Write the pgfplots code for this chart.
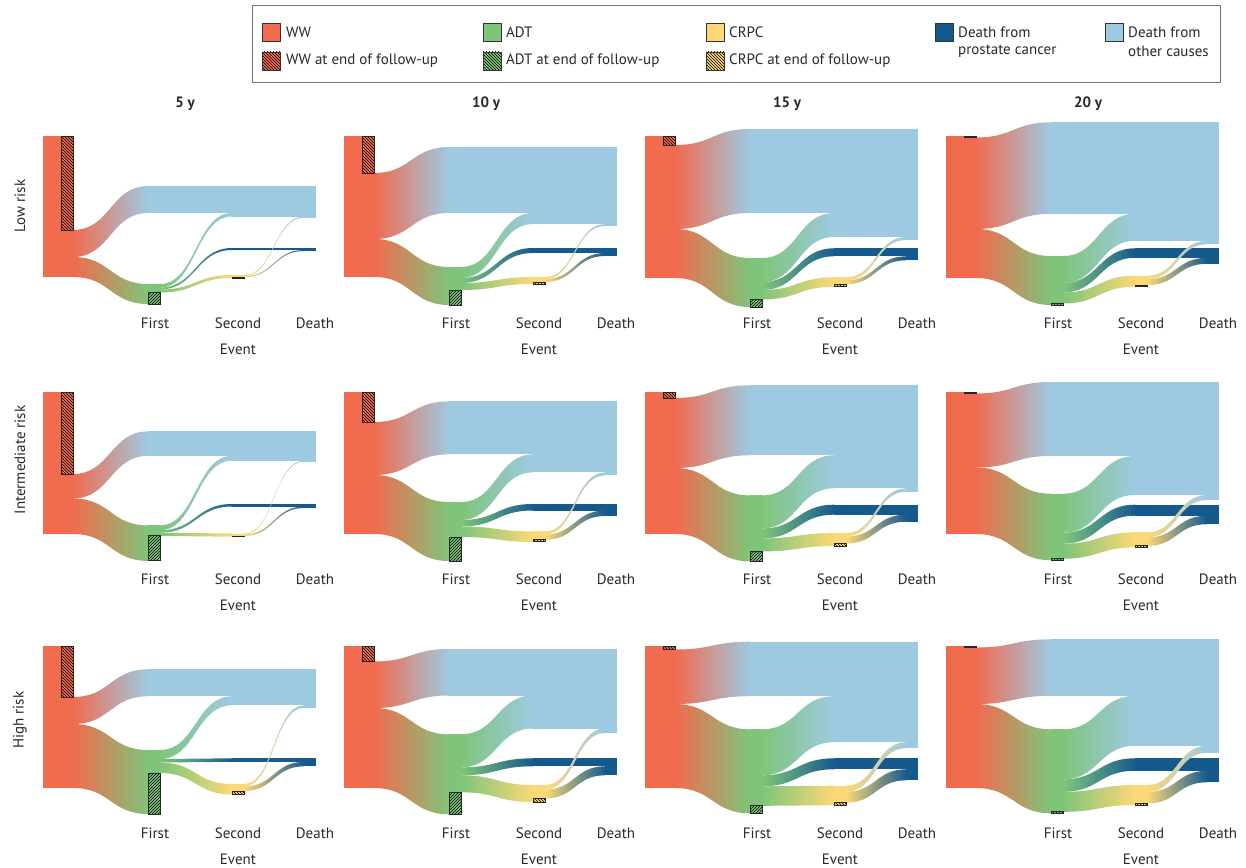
\documentclass[border=0pt]{standalone}
\usepackage{pgfplots}
\pgfplotsset{compat=1.18}
\usepackage{pgfplotstable}
\usepackage{fontspec}
\setmainfont{PT Sans}
\usetikzlibrary{patterns}

\definecolor{wwc}{RGB}{241,107,79}
\definecolor{adtc}{RGB}{126,197,122}
\definecolor{crc}{RGB}{252,216,118}
\definecolor{pcc}{RGB}{22,90,141}
\definecolor{oc}{RGB}{158,202,225}
\definecolor{txt}{RGB}{40,40,40}

% one row per panel (low 5,10,15,20 y; intermediate ...; high ...)
% a: WW at end, b: WW->other death, c: WW->ADT, do: top of other-death band,
% adt: top of ADT node, d: ADT at end, e: ADT->other, f: ADT->PC death, g: ADT->CRPC,
% pc: top of PC-death band, cr: top of CRPC node, h: CRPC at end, i: CRPC->other, j: CRPC->PC
\pgfplotstableread{
a b c do adt d e f g pc cr h i j
94 27 20 50 148 11.5 3.5 2 3 112 139 0.8 1.2 1.0
37 66 38 11 131 15 11 5 7 112 141 2 2 3
9 84 49 -7 122 7.5 24 8 9.5 112.3 141.3 2.5 3 4
1.5 91.5 49 -13.7 120 1.5 27 9.5 11 112.3 139.7 1.5 3.5 6
82 24.5 35.5 39.4 133.4 25 4.8 2.5 3.2 112 141.5 0.7 1 1.5
30 53 59 9.4 110 24 18 6.5 10.5 112 139.4 2 3 5.5
6 70 66 -6.7 103.4 10 33 10 13 112.7 141 2.5 3.5 7
1.5 74 66.5 -10 101.7 1.5 39 11 15 112.7 140.4 1.5 5 8.5
51 27 64 23.3 104 41 9 3.5 10.5 112.3 138 3.5 2.5 4.5
15.5 46.5 80 3 88.3 22 33 8 17 112.3 139 3.5 4.5 9
3.5 54.5 84 -4.3 83.3 7.5 46 11 19.5 112.3 139.7 2.5 6 11
1.5 56.5 84 -6.7 83.3 1.5 50 12.5 20 112.3 139 1.5 7 11.5
}\paneldata

\newcommand\fs{\fontsize{15}{18}\selectfont}

\pgfplotsset{panel/.style={anchor=origin, x=1pt, y=1pt,
  xmin=0, xmax=285, ymin=-178, ymax=16, clip=false,
  axis line style={draw=none}, major tick length=0pt, ytick=\empty,
  xtick={112,195,272}, xticklabels={First,Second,Death},
  xlabel={Event}, xlabel style={at={(ticklabel cs:0.684)}, anchor=near ticklabel, yshift=-9pt, font=\fs, text=txt},
  tick label style={font=\fs, text=txt}}}

% curved band: x1, ytop1, ybot1, x2, ytop2, ybot2, xmid, colour from, colour to
\newcommand\curveband[9]{%
 \addplot[draw=none, left color=#8, right color=#9] coordinates {(#1,#2)}
  .. controls (axis cs:#7,#2) and (axis cs:#7,#5) .. (axis cs:#4,#5)
  -- (axis cs:#4,#6)
  .. controls (axis cs:#7,#6) and (axis cs:#7,#3) .. (axis cs:#1,#3) -- cycle;}
% flat band: x1, x2, ytop, ybot, colour
\newcommand\flatband[5]{%
 \addplot[draw=none, fill=#5] coordinates {(#1,#3) (#2,#3) (#2,#4) (#1,#4)} -- cycle;}
% hatched box: x1, x2, ytop, ybot, colour, pattern
\newcommand\hatchbox[6]{%
 \addplot[draw=black!85, line width=0.9pt, preaction={fill=#5}, pattern=#6]
  coordinates {(#1,#3) (#2,#3) (#2,#4) (#1,#4)} -- cycle;}

\newcommand\getv[2]{\pgfplotstablegetelem{\prow}{#1}\of\paneldata\let#2\pgfplotsretval}

\newcommand\panel[3]{%
 \def\prow{#1}%
 \getv{a}\va \getv{b}\vb \getv{c}\vc \getv{do}\vdo \getv{adt}\vadt
 \getv{d}\vd \getv{e}\ve \getv{f}\vf \getv{g}\vg \getv{pc}\vpc
 \getv{cr}\vcr \getv{h}\vh \getv{i}\vi \getv{j}\vj
 \pgfmathsetmacro\yWa{-(\va)}%
 \pgfmathsetmacro\yWb{-(\va+\vb)}%
 \pgfmathsetmacro\yWc{-(\va+\vb+\vc)}%
 \pgfmathsetmacro\yDOa{-(\vdo)}%
 \pgfmathsetmacro\yDOb{-(\vdo+\vb)}%
 \pgfmathsetmacro\yDOc{-(\vdo+\vb+\ve)}%
 \pgfmathsetmacro\yDOd{-(\vdo+\vb+\ve+\vi)}%
 \pgfmathsetmacro\yAa{-(\vadt)}%
 \pgfmathsetmacro\yAb{-(\vadt+\ve)}%
 \pgfmathsetmacro\yAc{-(\vadt+\ve+\vf)}%
 \pgfmathsetmacro\yAd{-(\vadt+\ve+\vf+\vg)}%
 \pgfmathsetmacro\yAe{-(\vadt+\vc)}%
 \pgfmathsetmacro\yPa{-(\vpc)}%
 \pgfmathsetmacro\yPb{-(\vpc+\vf)}%
 \pgfmathsetmacro\yPc{-(\vpc+\vf+\vj)}%
 \pgfmathsetmacro\yCa{-(\vcr)}%
 \pgfmathsetmacro\yCb{-(\vcr+\vi)}%
 \pgfmathsetmacro\yCc{-(\vcr+\vi+\vj)}%
 \pgfmathsetmacro\yCd{-(\vcr+\vg)}%
 \begin{axis}[panel, at={(#2pt,#3pt)}]
  \curveband{30}{\yWa}{\yWb}{105}{\yDOa}{\yDOb}{67.5}{wwc}{oc}
  \flatband{104.5}{273}{\yDOa}{\yDOb}{oc}
  \curveband{30}{\yWb}{\yWc}{105}{\yAa}{\yAe}{67.5}{wwc}{adtc}
  \curveband{117}{\yAa}{\yAb}{189}{\yDOb}{\yDOc}{153}{adtc}{oc}
  \flatband{188.5}{273}{\yDOb}{\yDOc}{oc}
  \curveband{117}{\yAb}{\yAc}{189}{\yPa}{\yPb}{153}{adtc}{pcc}
  \flatband{188.5}{273}{\yPa}{\yPb}{pcc}
  \curveband{117}{\yAc}{\yAd}{189}{\yCa}{\yCd}{153}{adtc}{crc}
  \curveband{201}{\yCb}{\yCc}{261}{\yPb}{\yPc}{231}{crc}{pcc}
  \flatband{260.5}{273}{\yPb}{\yPc}{pcc}
  \curveband{201}{\yCa}{\yCb}{261}{\yDOc}{\yDOd}{231}{crc}{oc}
  \flatband{260.5}{273}{\yDOc}{\yDOd}{oc}
  \flatband{0}{30.5}{0}{\yWc}{wwc}
  \flatband{104.5}{117.5}{\yAa}{\yAe}{adtc}
  \flatband{188.5}{201.5}{\yCa}{\yCd}{crc}
  \hatchbox{18}{30}{0}{\yWa}{wwc}{north west lines}
  \hatchbox{105}{117}{\yAd}{\yAe}{adtc}{north east lines}
  \hatchbox{189}{201}{\yCc}{\yCd}{crc}{north west lines}
 \end{axis}}

\begin{document}
\begin{tikzpicture}[x=1pt, y=1pt, font=\fs, text=txt]
\useasboundingbox (0,0) rectangle (1246,-867);

% legend
\draw[black!55, line width=0.9pt] (252,-5) rectangle (1220,-82);
\filldraw[fill=wwc, draw=black!80, line width=0.6pt] (262,-23) rectangle (280,-41);
\node[anchor=west, inner sep=0] at (286,-32) {WW};
\filldraw[fill=adtc, draw=black!80, line width=0.6pt] (483,-23) rectangle (501,-41);
\node[anchor=west, inner sep=0] at (506,-32) {ADT};
\filldraw[fill=crc, draw=black!80, line width=0.6pt] (706,-23) rectangle (724,-41);
\node[anchor=west, inner sep=0] at (729,-32) {CRPC};
\filldraw[fill=pcc, draw=black!80, line width=0.6pt] (935,-23) rectangle (953,-41);
\node[anchor=west, inner sep=0] at (958,-32) {Death from};
\node[anchor=west, inner sep=0] at (958,-51) {prostate cancer};
\filldraw[fill=oc, draw=black!80, line width=0.6pt] (1105,-23) rectangle (1123,-41);
\node[anchor=west, inner sep=0] at (1128,-32) {Death from};
\node[anchor=west, inner sep=0] at (1128,-51) {other causes};
\draw[draw=black!80, line width=0.6pt, preaction={fill=wwc}, pattern=north west lines] (262,-52) rectangle (280,-70);
\node[anchor=west, inner sep=0] at (286,-61) {WW at end of follow-up};
\draw[draw=black!80, line width=0.6pt, preaction={fill=adtc}, pattern=north west lines] (483,-52) rectangle (501,-70);
\node[anchor=west, inner sep=0] at (506,-61) {ADT at end of follow-up};
\draw[draw=black!80, line width=0.6pt, preaction={fill=crc}, pattern=north west lines] (706,-52) rectangle (724,-70);
\node[anchor=west, inner sep=0] at (729,-61) {CRPC at end of follow-up};

% column titles and row labels
\node[font=\fs\bfseries] at (185,-104) {5 y};
\node[font=\fs\bfseries] at (486,-104) {10 y};
\node[font=\fs\bfseries] at (787,-104) {15 y};
\node[font=\fs\bfseries] at (1088,-104) {20 y};
\node[rotate=90] at (20,-206) {Low risk};
\node[rotate=90] at (20,-460) {Intermediate risk};
\node[rotate=90] at (20,-720) {High risk};

\panel{0}{43}{-136}
\panel{1}{344}{-136}
\panel{2}{645}{-136}
\panel{3}{946}{-136}
\panel{4}{43}{-392}
\panel{5}{344}{-392}
\panel{6}{645}{-392}
\panel{7}{946}{-392}
\panel{8}{43}{-646}
\panel{9}{344}{-646}
\panel{10}{645}{-646}
\panel{11}{946}{-646}
\end{tikzpicture}
\end{document}
